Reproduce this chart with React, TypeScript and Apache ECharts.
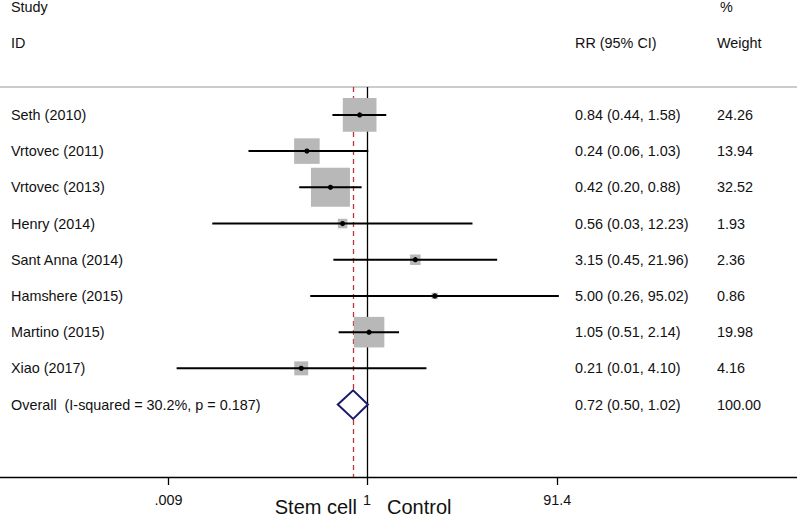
import React, { useEffect, useRef } from "react";
import * as echarts from "echarts";

const studies = [
  "Seth (2010)",
  "Vrtovec (2011)",
  "Vrtovec (2013)",
  "Henry (2014)",
  "Sant Anna (2014)",
  "Hamshere (2015)",
  "Martino (2015)",
  "Xiao (2017)",
];
const rr = [0.84, 0.24, 0.42, 0.56, 3.15, 5.0, 1.05, 0.21];
const ciLow = [0.44, 0.06, 0.2, 0.0254, 0.45, 0.26, 0.51, 0.0109];
const ciHigh = [1.58, 1.03, 0.88, 12.23, 21.96, 95.02, 2.14, 4.1];
const weights = [24.26, 13.94, 32.52, 1.93, 2.36, 0.86, 19.98, 4.16];

const overallLabel = "Overall  (I-squared = 30.2%, p = 0.187)";
const overallRR = 0.72;
const overallLow = 0.5;
const overallHigh = 1.02;
const overallWeight = 100.0;

const tickValues = [0.009, 1, 91.4];
const tickLabels = [".009", "1", "91.4"];

const FONT = 'Arial, "Liberation Sans", Helvetica, sans-serif';
const FS = 14.4;
const TEXT_COLOR = "#111";
const BOX_K = 6.84;

const lg = (v: number) => Math.log10(v);
const fmt = (v: number) => v.toFixed(2);

export default function App() {
  const ref = useRef<HTMLDivElement>(null);

  useEffect(() => {
    if (!ref.current) return;
    const chart = echarts.init(ref.current, null, { renderer: "svg" });

    const rowLabels = [...studies, overallLabel];
    const ciLabels = [
      ...rr.map((v, i) => `${fmt(v)} (${fmt(ciLow[i])}, ${fmt(ciHigh[i])})`),
      `${fmt(overallRR)} (${fmt(overallLow)}, ${fmt(overallHigh)})`,
    ];
    const weightLabels = [...weights.map(fmt), fmt(overallWeight)];
    const rowVals = rowLabels.map((_, i) => i + 1);

    const studyData = studies.map((_, i) => [
      i + 1,
      lg(rr[i]),
      lg(ciLow[i]),
      lg(ciHigh[i]),
      weights[i],
    ]);
    const overallData = [[studies.length + 1, lg(overallRR), lg(overallLow), lg(overallHigh)]];

    const X_MIN = -3.7835;
    const X_MAX = 4.433;
    const Y_MIN = 0.23;
    const Y_MAX = 11;

    const baseY = {
      type: "value",
      min: Y_MIN,
      max: Y_MAX,
      inverse: true,
      splitLine: { show: false },
      axisTick: { show: false },
      axisLine: { show: false },
    };
    const labelStyle = { fontFamily: FONT, fontSize: FS, color: TEXT_COLOR };
    const pickRow = (arr: string[]) => (v: number) => arr[Math.round(v) - 1] ?? "";

    const tickLog = tickValues.map(lg);

    const option: any = {
      animation: false,
      backgroundColor: "#fff",
      grid: { left: 0, right: 0, top: 87, bottom: 41, containLabel: false },
      xAxis: [
        {
          type: "value",
          min: X_MIN,
          max: X_MAX,
          position: "bottom",
          splitLine: { show: false },
          axisLine: { show: true, onZero: false, lineStyle: { color: "#000", width: 1.3 } },
          axisTick: { show: true, customValues: tickLog, length: 8, lineStyle: { color: "#000", width: 1.3 } },
          axisLabel: {
            show: true,
            customValues: tickLog,
            margin: 16,
            ...labelStyle,
            formatter: (v: number) => {
              let best = 0;
              tickLog.forEach((t, i) => {
                if (Math.abs(t - v) < Math.abs(tickLog[best] - v)) best = i;
              });
              return tickLabels[best];
            },
          },
        },
        {
          type: "value",
          min: X_MIN,
          max: X_MAX,
          position: "top",
          splitLine: { show: false },
          axisLine: { show: true, onZero: false, lineStyle: { color: "#cccccc", width: 2.2 } },
          axisTick: { show: false },
          axisLabel: { show: false },
        },
      ],
      yAxis: [
        {
          ...baseY,
          position: "left",
          axisLabel: {
            show: true,
            inside: true,
            margin: 11,
            customValues: rowVals,
            ...labelStyle,
            formatter: pickRow(rowLabels),
          },
        },
        {
          ...baseY,
          position: "left",
          offset: -575,
          axisLabel: {
            show: true,
            inside: true,
            margin: 0,
            customValues: rowVals,
            ...labelStyle,
            formatter: pickRow(ciLabels),
          },
        },
        {
          ...baseY,
          position: "left",
          offset: -717,
          axisLabel: {
            show: true,
            inside: true,
            margin: 0,
            customValues: rowVals,
            ...labelStyle,
            formatter: pickRow(weightLabels),
          },
        },
      ],
      series: [
        {
          type: "line",
          data: [],
          z: 1,
          silent: true,
          markLine: {
            silent: true,
            symbol: ["none", "none"],
            label: { show: false },
            data: [
              { xAxis: 0, lineStyle: { color: "#000", width: 1.3, type: "solid" } },
              { xAxis: lg(overallRR), lineStyle: { color: "#b8333b", width: 1.3, type: [5, 4] } },
            ],
          },
        },
        {
          type: "custom",
          z: 5,
          silent: true,
          xAxisIndex: 0,
          yAxisIndex: 0,
          data: studyData,
          encode: { x: [1, 2, 3], y: 0 },
          renderItem: (_params: any, api: any) => {
            const row = api.value(0);
            const c = api.coord([api.value(1), row]);
            const l = api.coord([api.value(2), row]);
            const h = api.coord([api.value(3), row]);
            const s = BOX_K * Math.sqrt(api.value(4));
            return {
              type: "group",
              children: [
                {
                  type: "rect",
                  shape: { x: c[0] - s / 2, y: c[1] - s / 2, width: s, height: s },
                  style: { fill: "#b8b8b8" },
                },
                {
                  type: "line",
                  shape: { x1: l[0], y1: c[1], x2: h[0], y2: c[1] },
                  style: { stroke: "#000", lineWidth: 2 },
                },
                {
                  type: "circle",
                  shape: { cx: c[0], cy: c[1], r: 2.6 },
                  style: { fill: "#000" },
                },
              ],
            };
          },
        },
        {
          type: "custom",
          z: 5,
          silent: true,
          data: overallData,
          encode: { x: [1, 2, 3], y: 0 },
          renderItem: (_params: any, api: any) => {
            const row = api.value(0);
            const c = api.coord([api.value(1), row]);
            const l = api.coord([api.value(2), row]);
            const h = api.coord([api.value(3), row]);
            const hh = 14.3;
            return {
              type: "polygon",
              shape: {
                points: [
                  [l[0], c[1]],
                  [c[0], c[1] - hh],
                  [h[0], c[1]],
                  [c[0], c[1] + hh],
                ],
              },
              style: { fill: "#fff", stroke: "#1a1a6b", lineWidth: 2 },
            };
          },
        },
      ],
      graphic: [
        { type: "text", x: 11, y: 7, style: { text: "Study", font: `${FS}px ${FONT}`, fill: TEXT_COLOR, textVerticalAlign: "middle" } },
        { type: "text", x: 11, y: 43, style: { text: "ID", font: `${FS}px ${FONT}`, fill: TEXT_COLOR, textVerticalAlign: "middle" } },
        { type: "text", x: 575, y: 43, style: { text: "RR (95% CI)", font: `${FS}px ${FONT}`, fill: TEXT_COLOR, textVerticalAlign: "middle" } },
        { type: "text", x: 720, y: 7, style: { text: "%", font: `${FS}px ${FONT}`, fill: TEXT_COLOR, textVerticalAlign: "middle" } },
        { type: "text", x: 717, y: 43, style: { text: "Weight", font: `${FS}px ${FONT}`, fill: TEXT_COLOR, textVerticalAlign: "middle" } },
        { type: "text", x: 357, y: 507, style: { text: "Stem cell", font: `20px ${FONT}`, fill: TEXT_COLOR, textAlign: "right", textVerticalAlign: "middle" } },
        { type: "text", x: 387, y: 507, style: { text: "Control", font: `20px ${FONT}`, fill: TEXT_COLOR, textAlign: "left", textVerticalAlign: "middle" } },
      ],
    };

    chart.setOption(option);
    return () => chart.dispose();
  }, []);

  return (
    <div
      ref={ref}
      style={{ position: "fixed", left: 0, top: 0, width: 797, height: 518, background: "#fff" }}
    />
  );
}
